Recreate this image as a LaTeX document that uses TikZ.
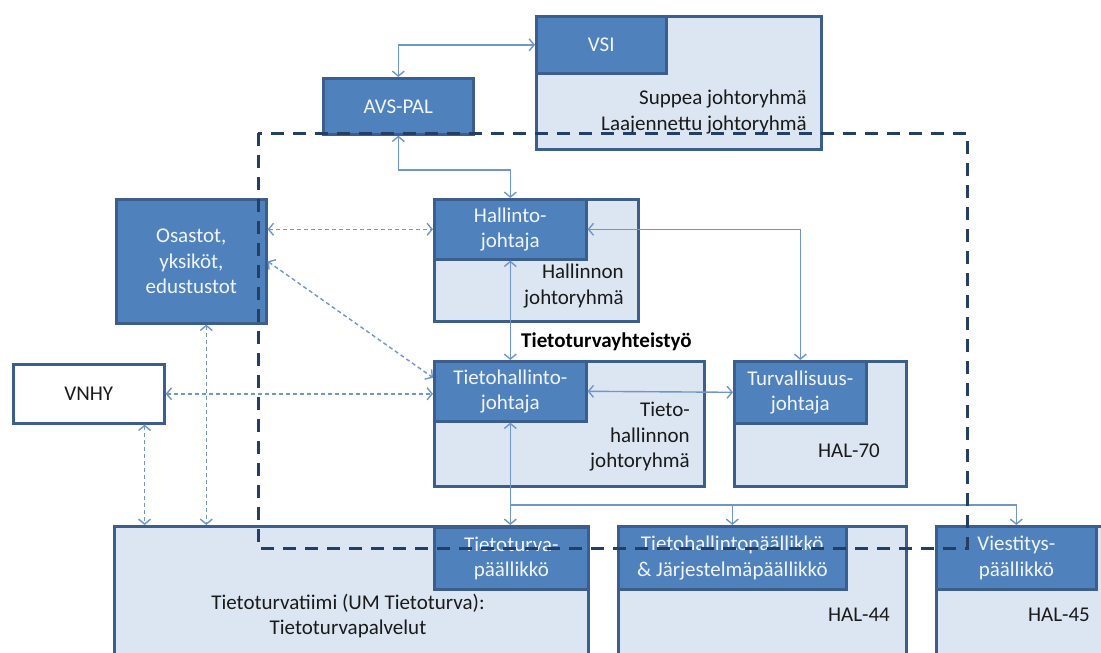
\documentclass[tikz,border=0pt]{standalone}
\usepackage{fontspec}
\setmainfont{Carlito}
\usetikzlibrary{arrows.meta}
\definecolor{frame}{HTML}{3B5E8C}
\definecolor{head}{HTML}{4F81BD}
\definecolor{pale}{HTML}{DCE6F2}
\definecolor{linkcol}{HTML}{6E96CB}
\definecolor{zone}{HTML}{243F66}
\definecolor{ink}{HTML}{1A1A1A}
\begin{document}
\begin{tikzpicture}[x=1pt,y=-1pt,
  font=\fontsize{21}{25.5}\selectfont,
  box/.style={draw=frame, line width=2.6pt, fill=pale, anchor=north west, inner sep=0pt},
  headbox/.style={draw=frame, line width=2.6pt, fill=head, anchor=north west,
    inner sep=0pt, text=white!92!head, align=center},
  plainbox/.style={draw=frame, line width=2.6pt, fill=white, anchor=north west,
    inner sep=0pt, text=ink, align=center},
  note/.style={anchor=east, align=right, inner sep=0pt, text=ink},
  tip/.tip={Straight Barb[length=5pt,width=12pt]},
  link/.style={draw=linkcol, line width=1.4pt, tip-tip},
  onelink/.style={draw=linkcol, line width=1.4pt, -tip},
  dlink/.style={link, dash pattern=on 4pt off 3pt}]

\useasboundingbox (0,0) rectangle (1101,653);
\clip (0,0) rectangle (1101,653);

% group boxes with their head positions
\node[box, minimum width=285pt, minimum height=133pt] (vsi) at (535,15) {};
\node[headbox, minimum width=130pt, minimum height=57pt] (vsih) at (535,15) {VSI};
\node[note] (vsit) at (807,112) {Suppea johtoryhmä\\Laajennettu johtoryhmä};

\node[headbox, minimum width=150pt, minimum height=56pt] (avs) at (322,77) {AVS-PAL};

\node[headbox, minimum width=150pt, minimum height=124pt] (osa) at (115,198) {Osastot,\\yksiköt,\\edustustot};

\node[box, minimum width=204pt, minimum height=122pt] (hall) at (433,198) {};
\node[headbox, minimum width=152pt, minimum height=60pt] (hallh) at (433,198) {Hallinto-\\johtaja};
\node[note] (hallt) at (624,286) {Hallinnon\\johtoryhmä};

\node[anchor=west, inner sep=0pt, text=black, font=\fontsize{21}{24}\selectfont\bfseries] (yht) at (521,342) {Tietoturvayhteistyö};

\node[plainbox, minimum width=151pt, minimum height=59pt] (vnhy) at (12,363) {VNHY};

\node[box, minimum width=270pt, minimum height=125pt] (tih) at (433,360) {};
\node[headbox, minimum width=152pt, minimum height=60pt] (tihh) at (433,360) {Tietohallinto-\\johtaja};
\node[note] (tiht) at (690,437) {Tieto-\\hallinnon\\johtoryhmä};

\node[box, minimum width=172pt, minimum height=125pt] (tur) at (733,360) {};
\node[headbox, minimum width=132pt, minimum height=62pt] (turh) at (733,360) {Turvallisuus-\\johtaja};
\node[note] (turt) at (880,451) {HAL-70};

\node[box, minimum width=474pt, minimum height=160pt] (tiimi) at (113,525) {};
\node[headbox, minimum width=154pt, minimum height=62pt] (tth) at (433,526) {Tietoturva-\\päällikkö};
\node[inner sep=0pt, align=center, text=ink] (tiimit) at (348,616) {Tietoturvatiimi (UM Tietoturva):\\Tietoturvapalvelut};

\node[box, minimum width=288pt, minimum height=160pt] (tj) at (617,525) {};
\node[headbox, minimum width=228pt, minimum height=63pt] (tjh) at (617,525) {Tietohallintopäällikkö\\\& Järjestelmäpäällikkö};
\node[note] (tjt) at (890,615) {HAL-44};

\node[box, minimum width=200pt, minimum height=160pt] (vi) at (935,525) {};
\node[headbox, minimum width=160pt, minimum height=63pt] (vih) at (935,525) {Viestitys-\\päällikkö};
\node[note] (vit) at (1090,615) {HAL-45};

% solid links
\draw[link] (avs.north) |- (vsih.west);
\draw[link] (avs.south) -- (avs.south |- 0,170) -| (hallh.north);
\draw[link] (hallh.east) -| (turh.north);
\draw[link] (hallh.south) -- (tihh.north);
\draw[link] (tihh.east) -- (turh.west);
\draw[link] (tihh.south) -- (tihh.south |- tiimi.north);
\coordinate (fork) at (tihh.south |- 0,505);
\draw[onelink] (fork) -| (tjh.north);
\draw[onelink] (fork) -| (vih.north);

% dashed links
\draw[dlink] (osa.east |- hallh.west) -- (hallh.west);
\draw[dlink] (osa.east) -- (tihh.170);
\draw[dlink] (vnhy.east) -- (tihh.west |- vnhy.east);
\coordinate (vnhyfoot) at ([xshift=-21pt]vnhy.south east);
\draw[dlink] (vnhyfoot) -- (vnhyfoot |- tiimi.north);
\coordinate (osafoot) at ([xshift=15pt]osa.south);
\draw[dlink] (osafoot) -- (osafoot |- tiimi.north);

% boundary of the core area
\draw[zone, line width=3pt, dash pattern=on 13pt off 9pt] (258,133) rectangle (967,548);
\end{tikzpicture}
\end{document}
